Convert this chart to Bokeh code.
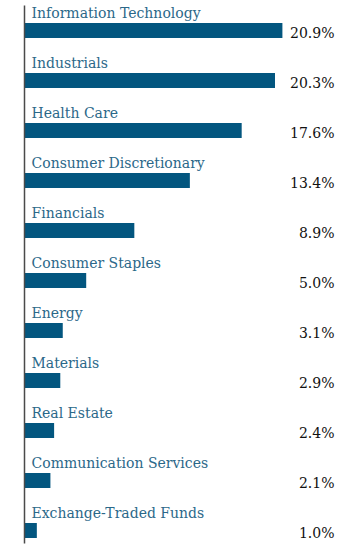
from bokeh.plotting import figure
from bokeh.models import Range1d, ColumnDataSource
from bokeh.core.properties import value
from bokeh.embed import file_html
from bokeh.resources import INLINE

categories = ["Information Technology", "Industrials", "Health Care", "Consumer Discretionary",
              "Financials", "Consumer Staples", "Energy", "Materials", "Real Estate",
              "Communication Services", "Exchange-Traded Funds"]
values = [20.9, 20.3, 17.6, 13.4, 8.9, 5.0, 3.1, 2.9, 2.4, 2.1, 1.0]
value_labels = ["%.1f%%" % v for v in values]

n = len(categories)
src = ColumnDataSource(dict(y=list(range(n)), v=values, cat=categories, lab=value_labels,
                            zero=[0] * n))

W, H = 352, 545
LEFT, TOP, BOTTOM = 24, 5, 2
SCALE = 12.34  # px per percent
ROW = 50.0     # px per row
frame_w = W - LEFT
frame_h = H - TOP - BOTTOM
x_end = frame_w / SCALE
y_top = -25.0 / ROW
y_bottom = frame_h / ROW + y_top

p = figure(width=W, height=H, output_backend="svg", toolbar_location=None,
           x_range=Range1d(0, x_end), y_range=Range1d(y_bottom, y_top),
           min_border_left=LEFT, min_border_right=0, min_border_top=TOP,
           min_border_bottom=BOTTOM, x_axis_location=None, y_axis_location="left")
p.outline_line_color = None
p.grid.visible = False
p.background_fill_color = "white"
p.border_fill_color = "white"

ax = p.yaxis[0]
ax.major_tick_line_color = None
ax.minor_tick_line_color = None
ax.major_label_text_font_size = "0px"
ax.axis_line_color = "#4a4a4a"
ax.axis_line_width = 1.5
ax.ticker = []

p.hbar(y="y", left="zero", right="v", height=0.3, source=src,
       fill_color="#03567f", line_color=None)

p.text(x="zero", y="y", text="cat", source=src, x_offset=7, y_offset=-18,
       text_font=value("DejaVu Serif"), text_font_size="14px",
       text_color="#2b6889", text_baseline="middle", text_align="left")

p.text(x=x_end, y="y", text="lab", source=src, x_offset=-18, y_offset=2,
       text_font=value("DejaVu Serif"), text_font_size="14px",
       text_color="#111111", text_baseline="middle", text_align="right")

open("out.html", "w").write(file_html(p, INLINE))
